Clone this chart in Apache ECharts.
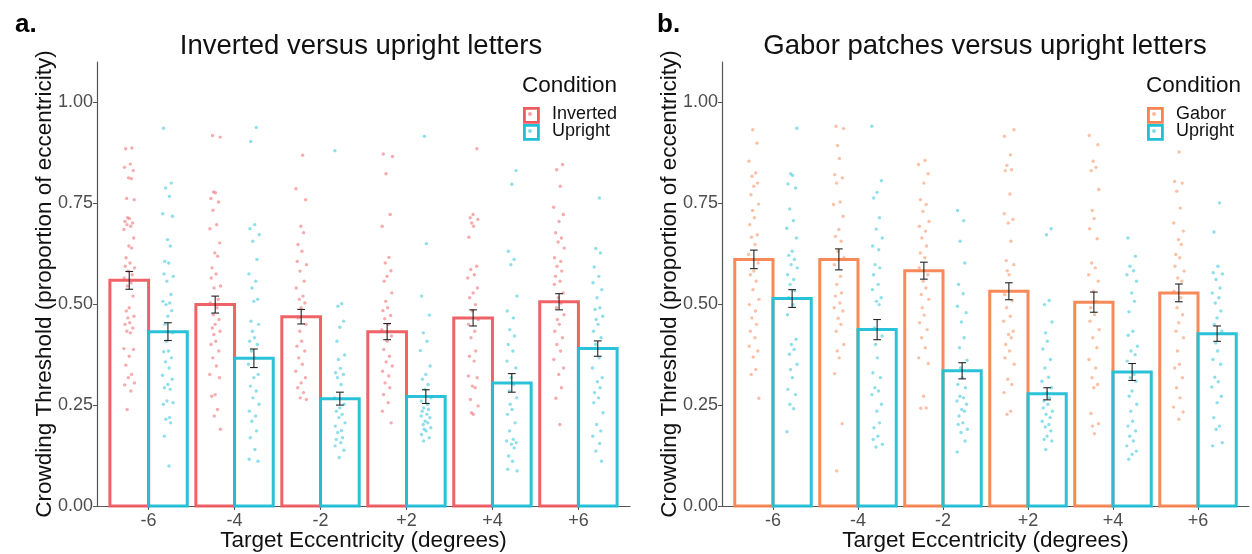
<!DOCTYPE html>
<html>
<head>
<meta charset="utf-8">
<title>Crowding thresholds</title>
<script src="https://cdn.jsdelivr.net/npm/echarts@6/dist/echarts.min.js"></script>
<style>
  html, body { margin: 0; padding: 0; background: #fff; }
  #chart { width: 1252px; height: 554px; }
</style>
</head>
<body>
<div id="chart"></div>
<script>
// Eccentricity categories (x axis) and y tick values
const categories = ['-6', '-4', '-2', '+2', '+4', '+6'];
const yTicks = [0, 0.25, 0.5, 0.75, 1.0];

// Panel a: inverted vs upright letters (group means and standard errors)
const invertedMean = [0.559, 0.499, 0.469, 0.432, 0.466, 0.506];
const invertedSE   = [0.022, 0.021, 0.018, 0.020, 0.020, 0.020];
const uprightAMean = [0.432, 0.366, 0.266, 0.271, 0.305, 0.390];
const uprightASE   = [0.022, 0.023, 0.016, 0.017, 0.023, 0.019];

// Panel b: Gabor patches vs upright letters
const gaborMean    = [0.611, 0.611, 0.583, 0.532, 0.505, 0.528];
const gaborSE      = [0.023, 0.026, 0.021, 0.021, 0.025, 0.022];
const uprightBMean = [0.514, 0.437, 0.335, 0.278, 0.332, 0.427];
const uprightBSE   = [0.022, 0.025, 0.020, 0.015, 0.021, 0.019];

// Individual observer thresholds, one list per eccentricity
const invertedPts = [
  [0.887,0.885,0.847,0.839,0.831,0.813,0.811,0.762,0.759,0.714,0.712,0.705,0.701,0.697,0.693,0.685,0.664,0.644,0.639,0.615,0.602,0.594,0.590,0.582,0.573,0.565,0.553,0.545,0.520,0.491,0.483,0.470,0.466,0.454,0.450,0.441,0.433,0.429,0.390,0.388,0.371,0.349,0.326,0.318,0.305,0.300,0.285,0.239],
  [0.918,0.914,0.778,0.776,0.762,0.753,0.733,0.697,0.687,0.652,0.627,0.619,0.590,0.575,0.565,0.545,0.540,0.512,0.503,0.491,0.474,0.462,0.450,0.441,0.433,0.425,0.408,0.400,0.384,0.367,0.347,0.326,0.318,0.276,0.272,0.239,0.223,0.190],
  [0.869,0.786,0.759,0.693,0.677,0.648,0.631,0.606,0.598,0.582,0.557,0.540,0.520,0.512,0.503,0.491,0.466,0.450,0.433,0.408,0.396,0.384,0.367,0.351,0.334,0.318,0.305,0.293,0.281,0.268,0.264],
  [0.872,0.866,0.823,0.722,0.693,0.616,0.602,0.583,0.569,0.557,0.528,0.507,0.491,0.484,0.472,0.464,0.450,0.436,0.421,0.408,0.388,0.371,0.357,0.347,0.334,0.322,0.305,0.293,0.276,0.256,0.235,0.206],
  [0.885,0.722,0.714,0.710,0.701,0.693,0.666,0.594,0.586,0.573,0.565,0.540,0.528,0.516,0.499,0.483,0.462,0.450,0.433,0.417,0.384,0.371,0.359,0.322,0.318,0.297,0.293,0.264,0.248,0.231,0.227],
  [0.846,0.833,0.792,0.740,0.722,0.705,0.677,0.664,0.654,0.639,0.615,0.606,0.594,0.582,0.569,0.557,0.549,0.528,0.516,0.503,0.491,0.474,0.462,0.450,0.433,0.417,0.400,0.384,0.363,0.342,0.326,0.293,0.267,0.202]
];
const uprightAPts = [
  [0.936,0.800,0.788,0.767,0.724,0.718,0.660,0.644,0.606,0.602,0.575,0.569,0.557,0.524,0.507,0.503,0.499,0.484,0.470,0.450,0.429,0.408,0.384,0.382,0.367,0.357,0.342,0.324,0.314,0.301,0.293,0.289,0.260,0.256,0.252,0.219,0.215,0.206,0.173,0.099],
  [0.938,0.903,0.697,0.687,0.672,0.656,0.611,0.575,0.557,0.540,0.512,0.507,0.458,0.450,0.433,0.417,0.408,0.400,0.384,0.367,0.351,0.326,0.318,0.297,0.285,0.268,0.252,0.235,0.223,0.210,0.186,0.169,0.140,0.116,0.111],
  [0.880,0.501,0.495,0.458,0.443,0.408,0.374,0.363,0.341,0.330,0.326,0.318,0.301,0.268,0.252,0.243,0.235,0.227,0.219,0.206,0.198,0.187,0.182,0.169,0.165,0.157,0.149,0.138,0.120],
  [0.916,0.650,0.520,0.473,0.429,0.408,0.385,0.347,0.326,0.314,0.301,0.289,0.268,0.260,0.252,0.243,0.239,0.235,0.227,0.223,0.219,0.210,0.206,0.202,0.194,0.190,0.186,0.177,0.169,0.161],
  [0.831,0.797,0.631,0.611,0.598,0.520,0.483,0.466,0.437,0.421,0.400,0.384,0.359,0.342,0.318,0.301,0.285,0.268,0.252,0.239,0.227,0.206,0.186,0.165,0.161,0.157,0.153,0.144,0.124,0.111,0.091,0.087],
  [0.763,0.638,0.627,0.592,0.569,0.553,0.536,0.516,0.491,0.487,0.470,0.462,0.450,0.433,0.417,0.400,0.367,0.342,0.318,0.308,0.293,0.281,0.268,0.256,0.231,0.202,0.186,0.173,0.155,0.136,0.111]
];
const gaborPts = [
  [0.932,0.899,0.854,0.825,0.817,0.800,0.792,0.771,0.748,0.732,0.714,0.697,0.672,0.666,0.648,0.623,0.602,0.582,0.573,0.557,0.536,0.512,0.499,0.483,0.466,0.450,0.433,0.417,0.396,0.384,0.369,0.338,0.326,0.267],
  [0.941,0.935,0.893,0.861,0.821,0.813,0.800,0.753,0.747,0.718,0.685,0.668,0.656,0.631,0.615,0.598,0.569,0.549,0.528,0.520,0.503,0.491,0.483,0.465,0.450,0.433,0.400,0.384,0.367,0.328,0.204,0.087],
  [0.856,0.846,0.823,0.800,0.759,0.747,0.730,0.705,0.693,0.681,0.664,0.644,0.627,0.615,0.590,0.573,0.557,0.540,0.524,0.512,0.491,0.473,0.454,0.437,0.417,0.392,0.367,0.353,0.272,0.243,0.242],
  [0.932,0.916,0.870,0.844,0.833,0.831,0.773,0.724,0.710,0.701,0.656,0.608,0.598,0.583,0.573,0.524,0.509,0.491,0.470,0.458,0.433,0.425,0.417,0.400,0.384,0.367,0.351,0.314,0.301,0.281,0.235,0.227],
  [0.918,0.895,0.854,0.839,0.831,0.784,0.732,0.712,0.687,0.662,0.602,0.590,0.573,0.557,0.532,0.507,0.491,0.474,0.458,0.437,0.417,0.392,0.363,0.342,0.318,0.301,0.293,0.229,0.204,0.198,0.179],
  [0.877,0.804,0.800,0.780,0.738,0.701,0.681,0.660,0.648,0.623,0.615,0.594,0.582,0.565,0.557,0.532,0.516,0.491,0.474,0.454,0.433,0.417,0.384,0.351,0.342,0.318,0.293,0.268,0.245,0.233,0.215]
];
const uprightBPts = [
  [0.936,0.823,0.819,0.798,0.788,0.736,0.707,0.688,0.664,0.631,0.621,0.611,0.598,0.590,0.573,0.561,0.549,0.533,0.516,0.499,0.474,0.413,0.400,0.388,0.376,0.351,0.338,0.318,0.289,0.276,0.252,0.241,0.184],
  [0.941,0.806,0.777,0.763,0.714,0.686,0.664,0.644,0.635,0.598,0.590,0.573,0.549,0.536,0.516,0.507,0.499,0.441,0.421,0.400,0.367,0.330,0.318,0.293,0.285,0.276,0.252,0.235,0.206,0.194,0.173,0.165,0.153,0.146],
  [0.732,0.707,0.656,0.602,0.549,0.526,0.495,0.479,0.456,0.417,0.392,0.361,0.342,0.318,0.301,0.293,0.272,0.268,0.260,0.252,0.239,0.235,0.223,0.206,0.202,0.190,0.182,0.161,0.134],
  [0.687,0.672,0.509,0.499,0.456,0.429,0.408,0.389,0.363,0.342,0.319,0.309,0.293,0.281,0.268,0.260,0.252,0.243,0.235,0.227,0.219,0.210,0.202,0.196,0.186,0.173,0.165,0.161,0.140],
  [0.664,0.619,0.594,0.583,0.573,0.557,0.528,0.507,0.481,0.433,0.423,0.396,0.384,0.375,0.359,0.326,0.318,0.309,0.285,0.272,0.252,0.235,0.210,0.198,0.186,0.173,0.161,0.149,0.136,0.128,0.116],
  [0.751,0.679,0.594,0.578,0.575,0.561,0.540,0.528,0.516,0.503,0.483,0.466,0.450,0.433,0.404,0.384,0.363,0.351,0.319,0.308,0.295,0.272,0.256,0.219,0.198,0.190,0.157,0.149]
];

// Horizontal jitter offsets (category units) applied to the dots
const jitter = [0.031,-0.042,0.012,-0.055,0.047,-0.008,0.024,-0.031,0.058,-0.019,0.003,-0.050,0.039,-0.026,0.017,-0.061,0.052,-0.004,0.028,-0.037,0.009,-0.046,0.062,-0.013,0.035,-0.058,0.021,-0.022,0.044,-0.001,-0.034,0.055,-0.016,0.006,-0.049,0.041,-0.028,0.014,-0.063,0.050,0.000,-0.040,0.027,-0.011,0.060,-0.053,0.019,-0.024];

const RED = '#EE5A5F', CYAN = '#1FBFD7', ORANGE = '#F8834F';
const FONT = '"Liberation Sans", Arial, Helvetica, sans-serif';
const BAR_W = 0.45;   // dodged bar width in category units
const DODGE = 0.225;  // offset of each dodged bar from the category centre

function barSeries(gi, mean, dodge, color) {
  return {
    type: 'custom', xAxisIndex: gi, yAxisIndex: gi, z: 2,
    data: mean.map((v, i) => [i, v]),
    renderItem: function (params, api) {
      const x0 = api.value(0) + dodge - BAR_W / 2;
      const p0 = api.coord([x0, api.value(1)]);
      const p1 = api.coord([x0 + BAR_W, 0]);
      return {
        type: 'rect',
        shape: { x: p0[0], y: p0[1], width: p1[0] - p0[0], height: p1[1] - p0[1] },
        style: { fill: 'none', stroke: color, lineWidth: 3, opacity: 0.95 }
      };
    }
  };
}

function errorSeries(gi, mean, se, dodge) {
  const cap = 0.045;
  return {
    type: 'custom', xAxisIndex: gi, yAxisIndex: gi, z: 5,
    data: mean.map((v, i) => [i, v, se[i]]),
    renderItem: function (params, api) {
      const x = api.value(0) + dodge;
      const lo = api.value(1) - api.value(2), hi = api.value(1) + api.value(2);
      const a = api.coord([x, lo]), b = api.coord([x, hi]);
      const cl = api.coord([x - cap, lo]), cr = api.coord([x + cap, lo]);
      const tl = api.coord([x - cap, hi]), tr = api.coord([x + cap, hi]);
      const st = { stroke: '#222', lineWidth: 1.1 };
      return {
        type: 'group',
        children: [
          { type: 'line', shape: { x1: a[0], y1: a[1], x2: b[0], y2: b[1] }, style: st },
          { type: 'line', shape: { x1: cl[0], y1: cl[1], x2: cr[0], y2: cr[1] }, style: st },
          { type: 'line', shape: { x1: tl[0], y1: tl[1], x2: tr[0], y2: tr[1] }, style: st }
        ]
      };
    }
  };
}

function dotSeries(gi, pts, dodge, color, seed) {
  const data = [];
  pts.forEach((list, i) => {
    list.forEach((v, k) => {
      data.push([i + dodge + jitter[(k + i * 7 + seed) % jitter.length], v]);
    });
  });
  return {
    type: 'scatter', xAxisIndex: gi, yAxisIndex: gi, z: 3,
    symbolSize: 3.4, silent: true,
    itemStyle: { color: color, opacity: 0.5 },
    data: data
  };
}

function xAxis(gi) {
  return {
    gridIndex: gi, type: 'value', min: -0.6, max: 5.6,
    name: 'Target Eccentricity (degrees)', nameLocation: 'middle', nameGap: 23,
    nameMoveOverlap: false,
    nameTextStyle: { fontFamily: FONT, fontSize: 22.5, color: '#111', verticalAlign: 'top' },
    axisLine: { show: true, onZero: false, lineStyle: { color: '#555', width: 1.2 } },
    axisTick: { show: true, customValues: [0, 1, 2, 3, 4, 5], length: 4, lineStyle: { color: '#555' } },
    axisLabel: { customValues: [0, 1, 2, 3, 4, 5], formatter: v => categories[Math.round(v)],
                 fontFamily: FONT, fontSize: 18, color: '#4D4D4D', margin: 6 },
    splitLine: { show: false }
  };
}

function yAxis(gi) {
  return {
    gridIndex: gi, type: 'value', min: 0, max: 1.1, interval: 0.25,
    name: 'Crowding Threshold (proportion of eccentricity)', nameLocation: 'middle', nameGap: 41,
    nameMoveOverlap: false,
    nameTextStyle: { fontFamily: FONT, fontSize: 22.5, color: '#111' },
    axisLine: { show: true, onZero: false, lineStyle: { color: '#555', width: 1.2 } },
    axisTick: { show: true, customValues: yTicks, length: 4, lineStyle: { color: '#555' } },
    axisLabel: { customValues: yTicks, formatter: v => v.toFixed(2),
                 fontFamily: FONT, fontSize: 18, color: '#4D4D4D', margin: 4 },
    splitLine: { show: false }
  };
}

function legendKeys(x, y, title, names, colors) {
  const kids = [{
    type: 'text', left: x, top: y,
    style: { text: title, font: '22.5px ' + FONT, fill: '#111' }
  }];
  names.forEach((n, i) => {
    const ky = y + 33 + i * 17;
    kids.push({ type: 'rect', left: x + 1, top: ky, shape: { width: 14, height: 14 },
                style: { fill: '#fff', stroke: colors[i], lineWidth: 2.8 } });
    kids.push({ type: 'circle', left: x + 6, top: ky + 5, shape: { r: 2 },
                style: { fill: colors[i], opacity: 0.55 } });
    kids.push({ type: 'text', left: x + 30, top: ky - 2,
                style: { text: n, font: '18px ' + FONT, fill: '#111' } });
  });
  return kids;
}

const chart = echarts.init(document.getElementById('chart'), null, { renderer: 'canvas' });
chart.setOption({
  animation: false,
  backgroundColor: '#fff',
  textStyle: { fontFamily: FONT },
  title: [
    { text: 'Inverted versus upright letters', left: 356, top: 27, textAlign: 'center',
      textStyle: { fontFamily: FONT, fontSize: 27.5, fontWeight: 'normal', color: '#111' } },
    { text: 'Gabor patches versus upright letters', left: 980, top: 27, textAlign: 'center',
      textStyle: { fontFamily: FONT, fontSize: 27.5, fontWeight: 'normal', color: '#111' } },
    { text: 'a.', left: 10, top: 7, textStyle: { fontFamily: FONT, fontSize: 26, fontWeight: 'bold', color: '#000' } },
    { text: 'b.', left: 652, top: 7, textStyle: { fontFamily: FONT, fontSize: 26, fontWeight: 'bold', color: '#000' } }
  ],
  grid: [
    { left: 97, top: 62, width: 533, height: 444, containLabel: false, outerBoundsMode: 'none' },
    { left: 722, top: 62, width: 527, height: 444, containLabel: false, outerBoundsMode: 'none' }
  ],
  xAxis: [xAxis(0), xAxis(1)],
  yAxis: [yAxis(0), yAxis(1)],
  series: [
    barSeries(0, invertedMean, -DODGE, RED),
    barSeries(0, uprightAMean, DODGE, CYAN),
    dotSeries(0, invertedPts, -DODGE, RED, 0),
    dotSeries(0, uprightAPts, DODGE, CYAN, 11),
    errorSeries(0, invertedMean, invertedSE, -DODGE),
    errorSeries(0, uprightAMean, uprightASE, DODGE),
    barSeries(1, gaborMean, -DODGE, ORANGE),
    barSeries(1, uprightBMean, DODGE, CYAN),
    dotSeries(1, gaborPts, -DODGE, ORANGE, 23),
    dotSeries(1, uprightBPts, DODGE, CYAN, 31),
    errorSeries(1, gaborMean, gaborSE, -DODGE),
    errorSeries(1, uprightBMean, uprightBSE, DODGE)
  ],
  graphic: [
    { type: 'group', children: legendKeys(522, 74, 'Condition', ['Inverted', 'Upright'], [RED, CYAN]) },
    { type: 'group', children: legendKeys(1146, 74, 'Condition', ['Gabor', 'Upright'], [ORANGE, CYAN]) }
  ]
});
</script>
</body>
</html>
